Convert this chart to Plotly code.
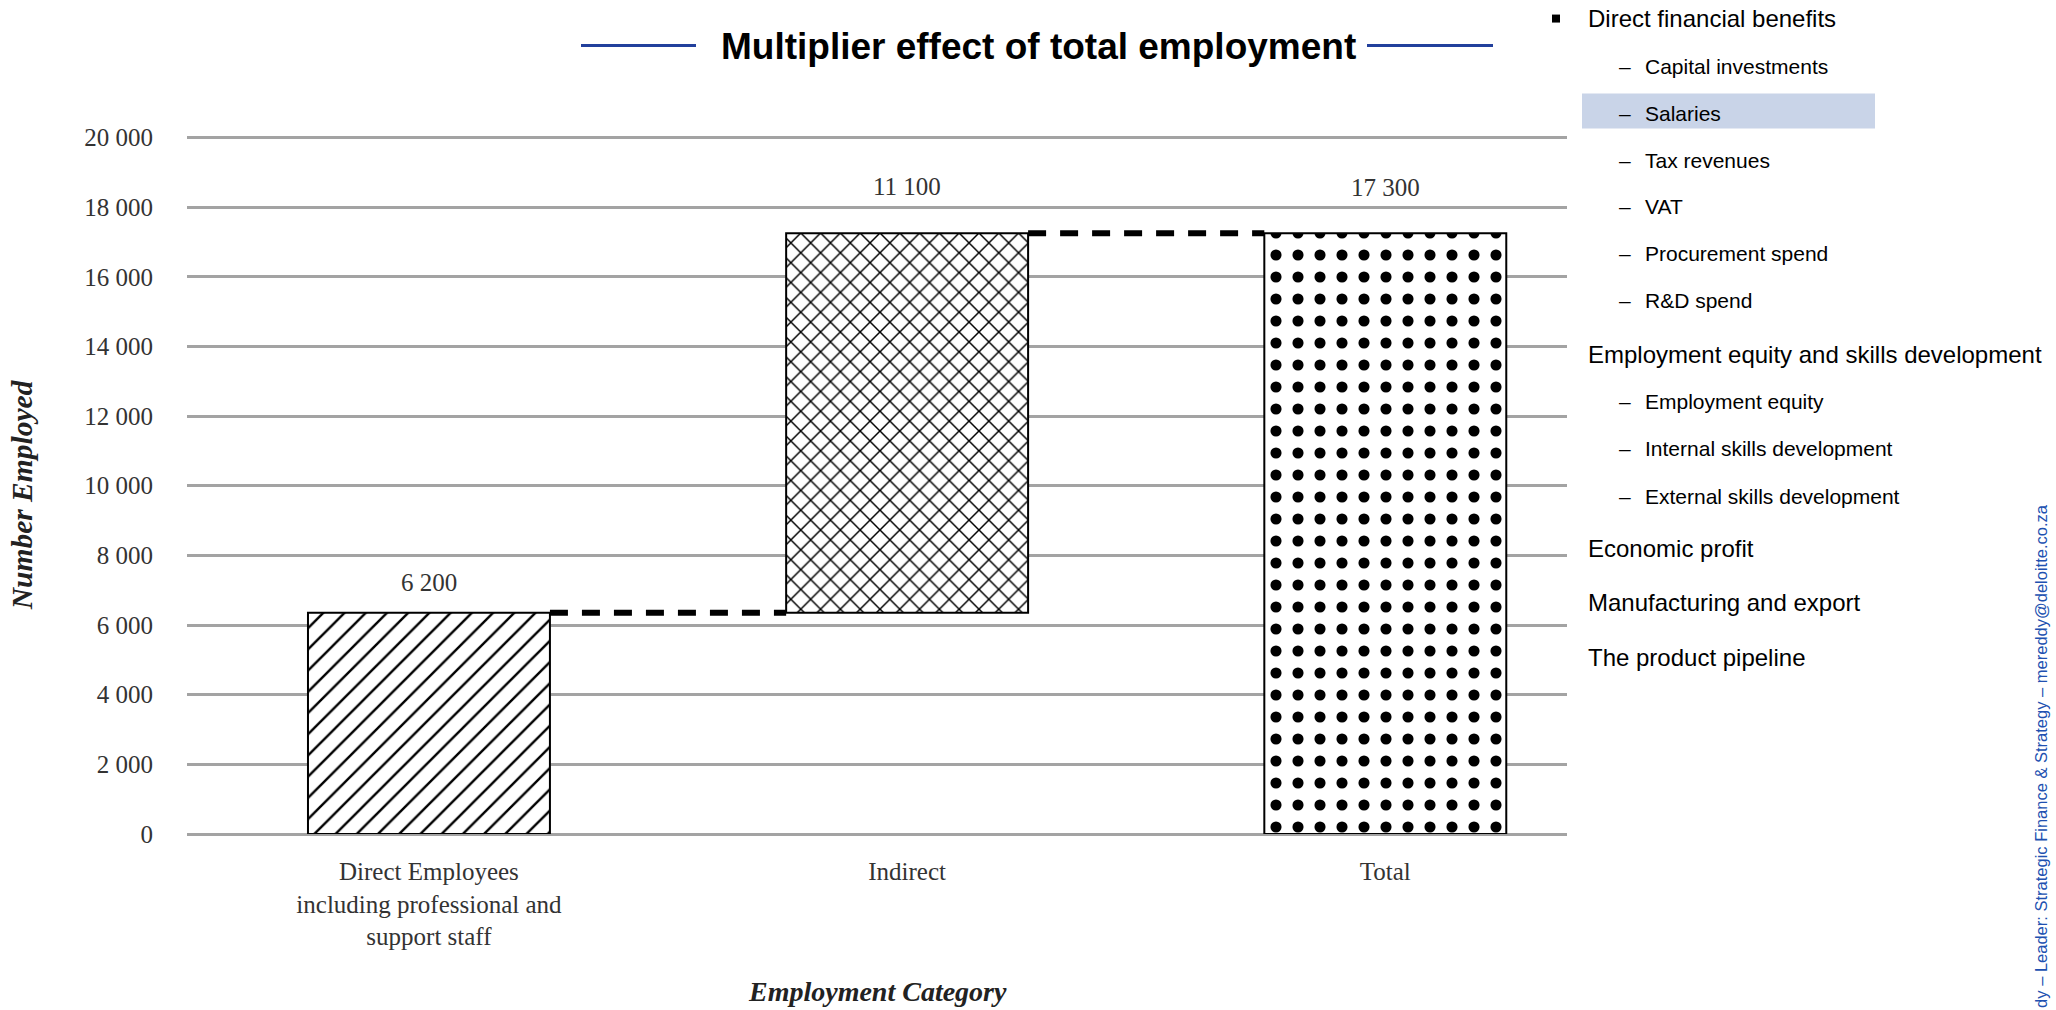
import plotly.graph_objects as go

# -- Chart data
categories = ['Direct Employees<br>including professional and<br>support staff', 'Indirect', 'Total']
bar_base = [0, 6350, 0]
bar_top = [6350, 17250, 17250]
bar_labels = ['6 200', '11 100', '17 300']
bar_patterns = ['/', 'x', '.']
y_ticks = [0, 2000, 4000, 6000, 8000, 10000, 12000, 14000, 16000, 18000, 20000]
y_tick_text = ['0', '2 000', '4 000', '6 000', '8 000', '10 000', '12 000', '14 000', '16 000', '18 000', '20 000']

# -- Side panel text (level, text)
side_items = [(0, 'Direct financial benefits'), (1, 'Capital investments'), (1, 'Salaries'),
              (1, 'Tax revenues'), (1, 'VAT'), (1, 'Procurement spend'), (1, 'R&D spend'),
              (0, 'Employment equity and skills development'), (1, 'Employment equity'),
              (1, 'Internal skills development'), (1, 'External skills development'),
              (0, 'Economic profit'), (0, 'Manufacturing and export'), (0, 'The product pipeline')]
side_rows = [18, 66, 113, 160, 206, 253, 300, 354, 401, 448, 496, 548, 602, 657]
highlight_item = 'Salaries'

W, H = 2056, 1010
Y_MAX = 20100
PL, PR, PB = 187, 1567, 834
PT = PB - (PB - 137) * Y_MAX / 20000
SERIF = 'Liberation Serif'
SANS = 'Liberation Sans'


def px(x):
    return (x - PL) / (PR - PL)


def py(y):
    return (PB - y) / (PB - PT)


fig = go.Figure()

# -- Floating bars (waterfall style) with hatch fills
for i in range(len(categories)):
    fig.add_trace(go.Bar(x=[i], y=[bar_top[i] - bar_base[i]], base=[bar_base[i]],
                         width=0.506,
                         marker=dict(color='white',
                                     line=dict(color='black', width=2),
                                     pattern=dict(shape=bar_patterns[i], fgcolor='black',
                                                  bgcolor='white', fgopacity=1,
                                                  size=[15, 14, 22][i],
                                                  solidity=[0.16, 0.2, 0.2][i])),
                         showlegend=False, hoverinfo='skip'))

# -- Dashed connectors between the bars
for i in range(len(categories) - 1):
    fig.add_trace(go.Scatter(x=[i + 0.253, i + 1 - 0.253], y=[bar_top[i], bar_top[i]],
                             mode='lines', line=dict(color='black', width=6, dash='18px,14px'),
                             showlegend=False, hoverinfo='skip'))

# -- Value labels above bars
for i, lab in enumerate(bar_labels):
    fig.add_annotation(x=i, y=bar_top[i], text=lab, showarrow=False, yanchor='middle',
                       yshift=[30, 47, 46][i], font=dict(family=SERIF, size=25, color='#333333'))

fig.update_xaxes(range=[-0.506, 2.38], tickvals=list(range(len(categories))), ticktext=categories,
                 showgrid=False, zeroline=False, showline=False, ticks='',
                 ticklabelstandoff=20,
                 tickfont=dict(family=SERIF, size=25, color='#333333'))
fig.update_yaxes(range=[0, Y_MAX], tickvals=y_ticks, ticktext=y_tick_text,
                 showgrid=True, gridcolor='#a3a3a3', gridwidth=3,
                 zeroline=True, zerolinecolor='#a3a3a3', zerolinewidth=3,
                 showline=False, ticks='', ticklabelstandoff=33,
                 tickfont=dict(family=SERIF, size=25, color='#333333'))

# -- Axis titles
fig.add_annotation(xref='paper', yref='paper', x=px(22), y=py(495), text='<b><i>Number Employed</i></b>',
                   textangle=-90, xanchor='center', yanchor='middle', showarrow=False,
                   font=dict(family=SERIF, size=29.5, color='#222222'))
fig.add_annotation(xref='paper', yref='paper', x=0.5, y=py(992), text='<b><i>Employment Category</i></b>',
                   xanchor='center', yanchor='middle', showarrow=False,
                   font=dict(family=SERIF, size=28, color='#222222'))

# -- Title with blue rules either side
fig.add_annotation(xref='paper', yref='paper', x=px(1038), y=py(46),
                   text='<b>Multiplier effect of total employment</b>', showarrow=False,
                   xanchor='center', yanchor='middle',
                   font=dict(family=SANS, size=37, color='black'))
for x0, x1 in [(581, 696), (1367, 1493)]:
    fig.add_shape(type='line', xref='paper', yref='paper', x0=px(x0), x1=px(x1), y0=py(45), y1=py(45),
                  line=dict(color='#22409c', width=3))

# -- Side panel
for (level, txt), row in zip(side_items, side_rows):
    if txt == highlight_item:
        fig.add_shape(type='rect', xref='paper', yref='paper', x0=px(1582), x1=px(1875),
                      y0=py(128), y1=py(93), fillcolor='#c9d4e8', line=dict(width=0), layer='below')
    if level == 0:
        fig.add_annotation(xref='paper', yref='paper', x=px(1586), y=py(row), text=txt,
                           xanchor='left', yanchor='middle', showarrow=False,
                           font=dict(family=SANS, size=24, color='black'))
    else:
        fig.add_annotation(xref='paper', yref='paper', x=px(1617), y=py(row), text='–',
                           xanchor='left', yanchor='middle', showarrow=False,
                           font=dict(family=SANS, size=21, color='black'))
        fig.add_annotation(xref='paper', yref='paper', x=px(1643), y=py(row), text=txt,
                           xanchor='left', yanchor='middle', showarrow=False,
                           font=dict(family=SANS, size=21, color='black'))
fig.add_shape(type='rect', xref='paper', yref='paper', x0=px(1552), x1=px(1560), y0=py(22), y1=py(14),
              fillcolor='black', line=dict(width=0))

# -- Vertical footer text on right edge
fig.add_annotation(xref='paper', yref='paper', x=px(2041), y=py(1010),
                   text='dy – Leader: Strategic Finance & Strategy – mereddy@deloitte.co.za',
                   textangle=-90, xanchor='center', yanchor='bottom', showarrow=False,
                   font=dict(family=SANS, size=16.5, color='#2050b0'))

fig.update_layout(width=W, height=H, template='plotly_white',
                  paper_bgcolor='white', plot_bgcolor='white',
                  margin=dict(l=PL, r=W - PR, t=PT, b=H - PB, autoexpand=False),
                  barmode='overlay', showlegend=False)

fig.write_html('out.html', config={'displayModeBar': False},
               post_script="document.body.style.margin='0';")
